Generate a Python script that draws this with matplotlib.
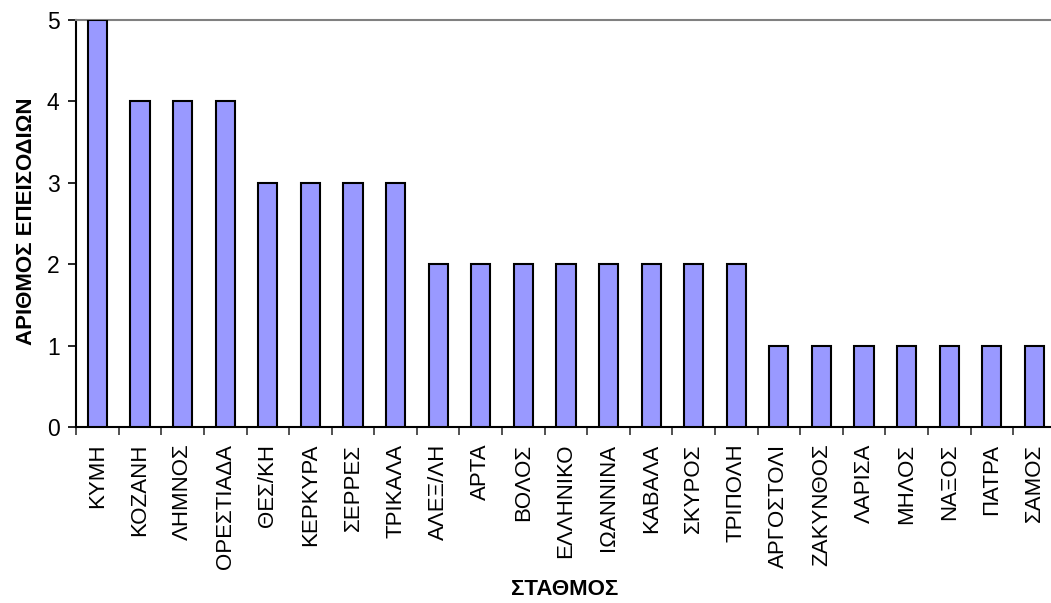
import matplotlib
matplotlib.use("Agg")
import matplotlib.pyplot as plt
import numpy as np

stations = ["ΚΥΜΗ", "ΚΟΖΑΝΗ", "ΛΗΜΝΟΣ", "ΟΡΕΣΤΙΑΔΑ", "ΘΕΣ/ΚΗ", "ΚΕΡΚΥΡΑ",
            "ΣΕΡΡΕΣ", "ΤΡΙΚΑΛΑ", "ΑΛΕΞ/ΛΗ", "ΑΡΤΑ", "ΒΟΛΟΣ", "ΕΛΛΗΝΙΚΟ",
            "ΙΩΑΝΝΙΝΑ", "ΚΑΒΑΛΑ", "ΣΚΥΡΟΣ", "ΤΡΙΠΟΛΗ", "ΑΡΓΟΣΤΟΛΙ",
            "ΖΑΚΥΝΘΟΣ", "ΛΑΡΙΣΑ", "ΜΗΛΟΣ", "ΝΑΞΟΣ", "ΠΑΤΡΑ", "ΣΑΜΟΣ"]
episodes = [5, 4, 4, 4, 3, 3, 3, 3, 2, 2, 2, 2, 2, 2, 2, 2, 1, 1, 1, 1, 1, 1, 1]
y_ticks = [0, 1, 2, 3, 4, 5]

plt.rcParams['font.family'] = ['Liberation Sans', 'DejaVu Sans']

fig = plt.figure(figsize=(10.51, 6.03), dpi=100)
ax = fig.add_axes([0.0725, 0.2919, 0.932, 0.6749])

x = np.arange(len(stations))
ax.bar(x, episodes, width=0.45, color='#9999FF', edgecolor='black',
       linewidth=1.5, zorder=3)

ax.set_xlim(-0.5, len(stations) - 0.5)
ax.set_ylim(0, 5)
ax.set_yticks(y_ticks)
ax.set_yticklabels([str(v) for v in y_ticks], fontsize=16.5)

ax.set_xticks(x)
ax.set_xticklabels(stations, rotation=90, fontsize=16, va='top')
ax.set_xticks(np.arange(len(stations) + 1) - 0.5, minor=True)
ax.tick_params(axis='x', which='major', length=0, pad=12)
ax.tick_params(axis='x', which='minor', length=6, width=1.2, color='#333333')
ax.tick_params(axis='y', which='major', length=6, width=1.2, pad=6)

for side in ('left', 'bottom'):
    ax.spines[side].set_linewidth(1.5)
    ax.spines[side].set_color('black')
ax.spines['right'].set_visible(False)
ax.spines['top'].set_color('#808080')
ax.spines['top'].set_linewidth(1.5)

ax.set_ylabel("ΑΡΙΘΜΟΣ ΕΠΕΙΣΟΔΙΩΝ", fontsize=16, fontweight='bold',
              va='center')
ax.yaxis.set_label_coords(-0.051, 0.506)
ax.set_xlabel("ΣΤΑΘΜΟΣ", fontsize=16, fontweight='bold', va='center')
ax.xaxis.set_label_coords(0.499, -0.40)

fig.savefig("out.png", dpi=100, facecolor='white')
